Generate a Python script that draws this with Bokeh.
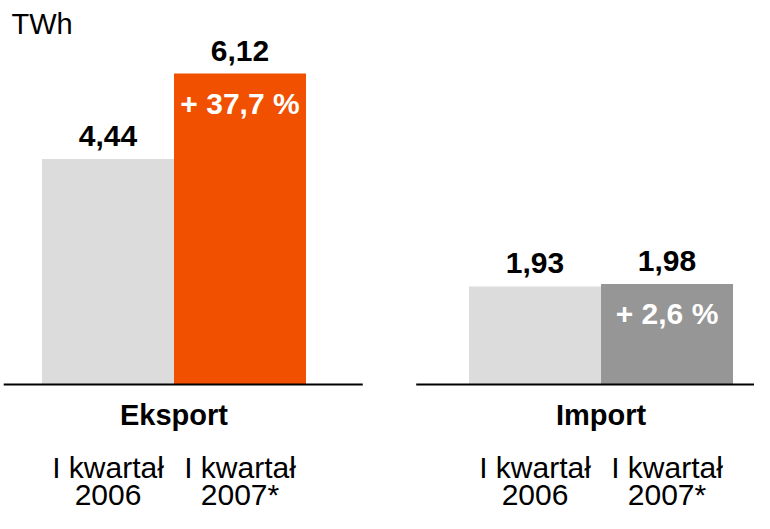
from bokeh.plotting import figure
from bokeh.models import ColumnDataSource, Range1d, Label
from bokeh.core.properties import value
from bokeh.embed import file_html
from bokeh.resources import INLINE

# ---- data ----
groups = ["Eksport", "Import"]
period_line1 = ["I kwartał", "I kwartał"]
period_line2 = ["2006", "2007*"]
eksport = [4.44, 6.12]
import_vals = [1.93, 1.98]
change_pct = [37.7, 2.6]
unit_label = "TWh"

bar_colors = {"Eksport": ["#DCDCDC", "#F05000"], "Import": ["#DCDCDC", "#969696"]}

FONT = value("Liberation Sans")

# ---- layout ----
W, H = 754, 513
px_x = 132.0     # pixels per x unit (one bar width)
px_y = 50.8      # pixels per TWh
group_step = 3.235
x0 = -107.5 / px_x
y0 = (384 - H) / px_y
x_range = Range1d(x0, x0 + W / px_x)
y_range = Range1d(y0, y0 + H / px_y)

p = figure(width=W, height=H, x_range=x_range, y_range=y_range,
           output_backend="svg", toolbar_location=None,
           x_axis_location=None, y_axis_location=None, min_border=0)
p.grid.visible = False
p.outline_line_color = None
p.background_fill_color = "white"
p.border_fill_color = "white"

series = {"Eksport": eksport, "Import": import_vals}

xs, tops, cols, vlabels = [], [], [], []
for gi, g in enumerate(groups):
    for si, v in enumerate(series[g]):
        xs.append(gi * group_step + si)
        tops.append(v)
        cols.append(bar_colors[g][si])
        vlabels.append(f"{v:.2f}".replace(".", ","))

src = ColumnDataSource(dict(x=xs, top=tops, color=cols, label=vlabels))
p.vbar(x="x", top="top", width=1.0, bottom=0, fill_color="color",
       line_color=None, source=src)

# baseline segments per group
seg_pad_left = [0.79, 0.9]
seg_pad_right = [1.93, 2.2]
seg_x0 = [gi * group_step - seg_pad_left[gi] for gi in range(len(groups))]
seg_x1 = [gi * group_step + seg_pad_right[gi] for gi in range(len(groups))]
p.segment(x0=seg_x0, y0=[0] * len(groups), x1=seg_x1, y1=[0] * len(groups),
          line_color="black", line_width=2)

# value labels above bars
p.text(x="x", y="top", text="label", source=src, text_font=FONT,
       text_font_style="bold", text_font_size="30px", text_align="center",
       text_baseline="alphabetic", y_offset=-23, text_color="black")

# change labels inside the second bar of each group
ch_x = [gi * group_step + 1 for gi in range(len(groups))]
ch_y = [series[g][1] for g in groups]
ch_t = ["+ " + f"{c:.1f}".replace(".", ",") + " %" for c in change_pct]
p.text(x=ch_x, y=ch_y, text=ch_t, text_font=FONT, text_font_style="bold",
       text_font_size="30px", text_align="center", text_baseline="alphabetic",
       y_offset=30, text_color="white")

# group names
gx = [gi * group_step + 0.5 for gi in range(len(groups))]
p.text(x=gx, y=[0] * len(groups), text=groups, text_font=FONT,
       text_font_style="bold", text_font_size="29px", text_align="center",
       text_baseline="alphabetic", y_offset=30, text_color="black")

# period labels
px_, l1, l2 = [], [], []
for gi in range(len(groups)):
    for si in range(2):
        px_.append(gi * group_step + si)
        l1.append(period_line1[si])
        l2.append(period_line2[si])
p.text(x=px_, y=[0] * len(px_), text=l1, text_font=FONT,
       text_font_size="30px", text_align="center", text_baseline="alphabetic",
       y_offset=83, text_color="black")
p.text(x=px_, y=[0] * len(px_), text=l2, text_font=FONT,
       text_font_size="30px", text_align="center", text_baseline="alphabetic",
       y_offset=110, text_color="black")

# unit label
p.add_layout(Label(x=11, y=H - 23, x_units="screen", y_units="screen",
                   text=unit_label, text_font="Liberation Sans",
                   text_font_size="29px", text_baseline="alphabetic",
                   text_color="black"))

open("out.html", "w").write(file_html(p, INLINE))
